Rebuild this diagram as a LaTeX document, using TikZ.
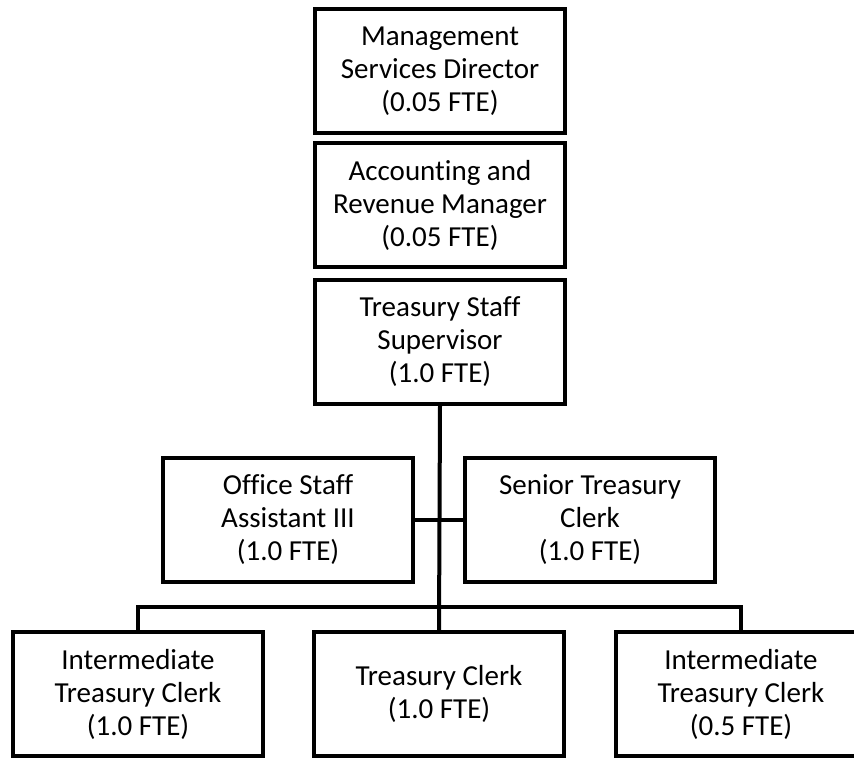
\documentclass[tikz,border=0pt]{standalone}
\usepackage{fontspec}
\setmainfont{Carlito}[Ligatures=NoCommon]
\usetikzlibrary{positioning}

\begin{document}
\begin{tikzpicture}[x=1pt,y=-1pt,line width=4pt,
  post/.style={draw,align=center,minimum width=250pt,minimum height=124pt,
    inner sep=0pt,font=\fontsize{29}{33}\selectfont}]
\useasboundingbox (0,0) rectangle (854,758);
% top of the chain
\node[post] (msd) at (440,71) {Management\\Services Director\\(0.05 FTE)};
\node[post] (arm) at (440,205) {Accounting and\\Revenue Manager\\(0.05 FTE)};
\node[post] (tss) at (440,341.5) {Treasury Staff\\Supervisor\\(1.0 FTE)};
% staff row
\node[post] (osa) at (288,519.5) {Office Staff\\Assistant III\\(1.0 FTE)};
\node[post] (stc) at (590,519.5) {Senior Treasury\\Clerk\\(1.0 FTE)};
% clerk row
\node[post] (itcl) at (138,694) {Intermediate\\Treasury Clerk\\(1.0 FTE)};
\node[post] (tc) at (439,694) {Treasury Clerk\\(1.0 FTE)};
\node[post] (itcr) at (741,694) {Intermediate\\Treasury Clerk\\(0.5 FTE)};
\coordinate (bus) at (440,607);
\draw (tss.south) -- (tc.north);
\draw (osa.east) -- (stc.west);
\draw (itcl.north) |- (bus) -| (itcr.north);
\end{tikzpicture}
\end{document}
